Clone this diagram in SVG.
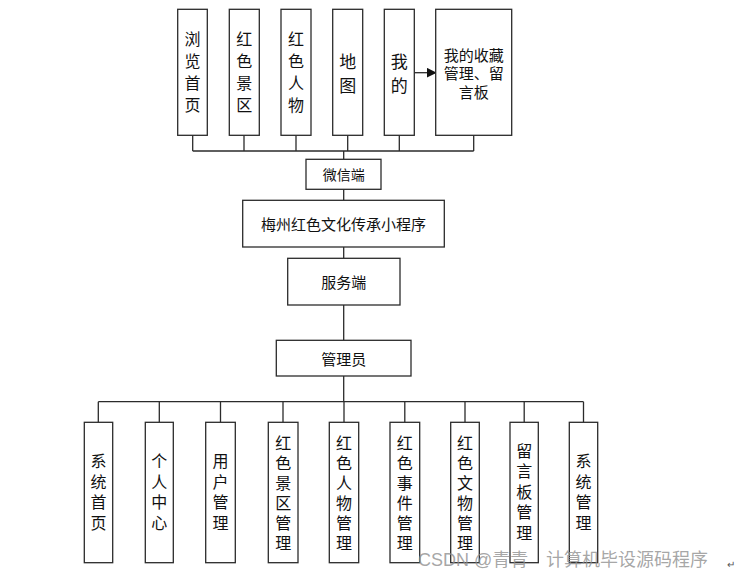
<svg xmlns="http://www.w3.org/2000/svg" width="737" height="578" viewBox="0 0 737 578">
<defs>
<style>
.box{fill:#fff;stroke:#2b2b2b;stroke-width:1.3}
.ln{fill:none;stroke:#2b2b2b;stroke-width:1.3}
.t{font-family:"Noto Sans CJK SC","Liberation Sans",sans-serif;fill:#111;text-anchor:middle;dominant-baseline:central}
.v{font-size:16px}
.s{font-size:14px}
.wm{font-family:"Liberation Sans","Noto Sans CJK SC",sans-serif;font-size:18px;fill:#8f8f8f;fill-opacity:0.8}
</style>
<marker id="ah" markerWidth="10" markerHeight="10" refX="9" refY="5" orient="auto" markerUnits="userSpaceOnUse">
<path d="M0,0 L10,5 L0,10 z" fill="#111"/>
</marker>
</defs>
<rect width="737" height="578" fill="#fff"/>
<g id="connectors">
<path class="ln" d="M192.7,135 V151 M244,135 V151 M296,135 V151 M347.7,135 V151 M399.3,135 V151 M473.7,135 V151 M192.7,151 H473.7 M343.7,151 V159.3"/>
<path class="ln" d="M343.7,189.3 V200.3 M343.7,247 V258.3 M343.7,305 V340.3 M343.7,376 V401.7"/>
<path class="ln" d="M98.3,401.7 H583.5 M98.3,401.7 V422.3 M159.3,401.7 V422.3 M220.5,401.7 V422.3 M283,401.7 V422.3 M344,401.7 V422.3 M404.8,401.7 V422.3 M465,401.7 V422.3 M524.2,401.7 V422.3 M583.5,401.7 V422.3"/>
<line class="ln" x1="414.3" y1="72.7" x2="435.7" y2="72.7" stroke-width="1.6" marker-end="url(#ah)"/>
</g>
<g id="n-browse"><rect class="box" x="177.7" y="9.3" width="29.6" height="126"/>
<text class="t v"><tspan x="192.5" y="38">浏</tspan><tspan x="192.5" y="60">览</tspan><tspan x="192.5" y="82">首</tspan><tspan x="192.5" y="104">页</tspan></text></g>
<g id="n-scenic"><rect class="box" x="229.3" y="9.3" width="30" height="126"/>
<text class="t v"><tspan x="244.3" y="38">红</tspan><tspan x="244.3" y="60">色</tspan><tspan x="244.3" y="82">景</tspan><tspan x="244.3" y="104">区</tspan></text></g>
<g id="n-people"><rect class="box" x="281" y="9.3" width="30" height="126"/>
<text class="t v"><tspan x="296" y="38">红</tspan><tspan x="296" y="60">色</tspan><tspan x="296" y="82">人</tspan><tspan x="296" y="104">物</tspan></text></g>
<g id="n-map"><rect class="box" x="332.7" y="9.3" width="30" height="126"/>
<text class="t" font-size="17"><tspan x="347.7" y="60">地</tspan><tspan x="347.7" y="83.5">图</tspan></text></g>
<g id="n-mine"><rect class="box" x="384.3" y="9.3" width="30" height="126"/>
<text class="t" font-size="17"><tspan x="399.3" y="60">我</tspan><tspan x="399.3" y="83.5">的</tspan></text></g>
<g id="n-fav"><rect class="box" x="435.7" y="9.3" width="76" height="126"/>
<text class="t" font-size="15"><tspan x="473.7" y="53.5">我的收藏</tspan><tspan x="473.7" y="72">管理、留</tspan><tspan x="473.7" y="90.5">言板</tspan></text></g>
<g id="n-wechat"><rect class="box" x="306" y="159.3" width="75" height="30"/>
<text class="t s" x="343.7" y="174.3">微信端</text></g>
<g id="n-app"><rect class="box" x="242.7" y="200.3" width="201.6" height="46.7"/>
<text class="t" font-size="15" x="343.5" y="223.5">梅州红色文化传承小程序</text></g>
<g id="n-server"><rect class="box" x="287.7" y="258.3" width="112.3" height="46.7"/>
<text class="t" font-size="15" x="343.8" y="281.7">服务端</text></g>
<g id="n-admin"><rect class="box" x="276.3" y="340.3" width="134.7" height="35.7"/>
<text class="t" font-size="15" x="343.7" y="358.2">管理员</text></g>
<g id="b-home"><rect class="box" x="84.3" y="422.3" width="28.4" height="140.4"/>
<text class="t v"><tspan x="98.5" y="460">系</tspan><tspan x="98.5" y="480.5">统</tspan><tspan x="98.5" y="501">首</tspan><tspan x="98.5" y="521.5">页</tspan></text></g>
<g id="b-center"><rect class="box" x="145.3" y="422.3" width="28" height="140.4"/>
<text class="t v"><tspan x="159.3" y="460">个</tspan><tspan x="159.3" y="480.5">人</tspan><tspan x="159.3" y="501">中</tspan><tspan x="159.3" y="521.5">心</tspan></text></g>
<g id="b-user"><rect class="box" x="205.7" y="422.3" width="29.6" height="140.4"/>
<text class="t v"><tspan x="220.5" y="460">用</tspan><tspan x="220.5" y="480.5">户</tspan><tspan x="220.5" y="501">管</tspan><tspan x="220.5" y="521.5">理</tspan></text></g>
<g id="b-scenic"><rect class="box" x="268.3" y="422.3" width="29.7" height="140.4"/>
<text class="t v"><tspan x="283.2" y="441.7">红</tspan><tspan x="283.2" y="461.7">色</tspan><tspan x="283.2" y="481.7">景</tspan><tspan x="283.2" y="501.7">区</tspan><tspan x="283.2" y="521.7">管</tspan><tspan x="283.2" y="541.7">理</tspan></text></g>
<g id="b-people"><rect class="box" x="329.3" y="422.3" width="29.4" height="140.4"/>
<text class="t v"><tspan x="344" y="441.7">红</tspan><tspan x="344" y="461.7">色</tspan><tspan x="344" y="481.7">人</tspan><tspan x="344" y="501.7">物</tspan><tspan x="344" y="521.7">管</tspan><tspan x="344" y="541.7">理</tspan></text></g>
<g id="b-event"><rect class="box" x="390" y="422.3" width="29.7" height="140.4"/>
<text class="t v"><tspan x="404.8" y="441.7">红</tspan><tspan x="404.8" y="461.7">色</tspan><tspan x="404.8" y="481.7">事</tspan><tspan x="404.8" y="501.7">件</tspan><tspan x="404.8" y="521.7">管</tspan><tspan x="404.8" y="541.7">理</tspan></text></g>
<g id="b-relic"><rect class="box" x="450.7" y="422.3" width="28.6" height="140.4"/>
<text class="t v"><tspan x="465" y="441.7">红</tspan><tspan x="465" y="461.7">色</tspan><tspan x="465" y="481.7">文</tspan><tspan x="465" y="501.7">物</tspan><tspan x="465" y="521.7">管</tspan><tspan x="465" y="541.7">理</tspan></text></g>
<g id="b-board"><rect class="box" x="510" y="422.3" width="28.3" height="140.4"/>
<text class="t v"><tspan x="524.2" y="450">留</tspan><tspan x="524.2" y="470.4">言</tspan><tspan x="524.2" y="490.8">板</tspan><tspan x="524.2" y="511.2">管</tspan><tspan x="524.2" y="531.6">理</tspan></text></g>
<g id="b-system"><rect class="box" x="569.3" y="422.3" width="28.4" height="140.4"/>
<text class="t v"><tspan x="583.5" y="460">系</tspan><tspan x="583.5" y="480.5">统</tspan><tspan x="583.5" y="501">管</tspan><tspan x="583.5" y="521.5">理</tspan></text></g>
<g id="watermark">
<text class="wm" x="418" y="566">CSDN @青青</text>
<text class="wm" x="546" y="566" font-size="19">计算机毕设源码程序</text>
<text x="727" y="568" font-family="Liberation Sans,sans-serif" font-size="10" fill="#555">↵</text>
</g>
</svg>
